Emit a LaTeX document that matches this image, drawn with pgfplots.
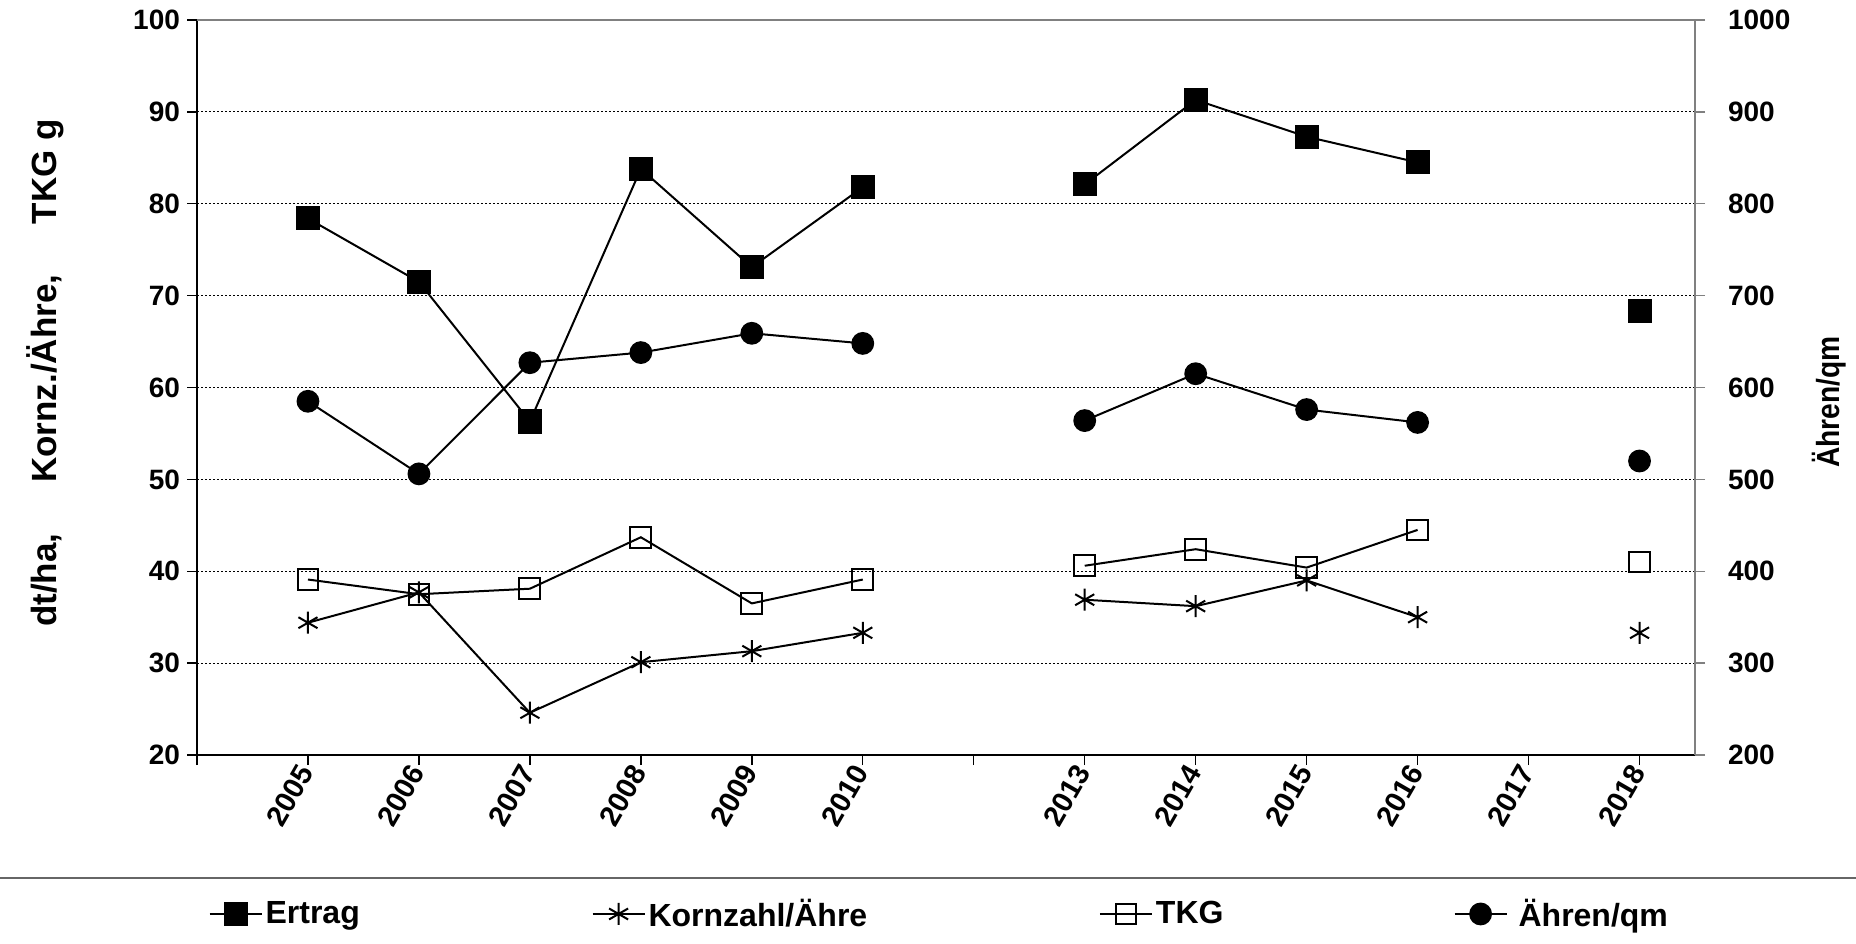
\documentclass[border=0pt]{standalone}
\usepackage{pgfplots}
\usepackage{pgfplotstable}
\pgfplotsset{compat=1.18}
\usepackage{fontspec}
\setmainfont{Liberation Sans}

\pgfplotstableread{
idx ertrag korn tkg aehren
1  78.4 34.4 39.1 585
2  71.5 37.7 37.5 506
3  56.3 24.6 38.1 627
4  83.8 30.1 43.7 638
5  73.1 31.3 36.5 659
6  81.8 33.3 39.1 648
7  nan  nan  nan  nan
8  82.1 36.9 40.6 564
9  91.3 36.2 42.4 615
10 87.3 39.0 40.4 576
11 84.5 35.0 44.5 562
12 nan  nan  nan  nan
13 68.3 33.3 41.0 520
}\datatable

\begin{document}
\begin{tikzpicture}[x=1pt,y=1pt]
\useasboundingbox (0,0) rectangle (928,471.5);
\pgfplotsset{
  every axis/.append style={
    at={(98.5pt,94pt)}, anchor=south west,
    width=749pt, height=367.5pt, scale only axis,
    xmin=0, xmax=13.5,
    tick align=outside, major tick length=5pt,
    /pgf/number format/assume math mode=true,
    /pgf/number format/1000 sep={},
    ticklabel style={font=\fontsize{14}{14}\selectfont\bfseries},
    unbounded coords=jump,
  },
}
\begin{axis}[
  ymin=20, ymax=100, ytick={20,30,...,100},
  xtick={0,...,13},
  xticklabels={,2005,2006,2007,2008,2009,2010,,2013,2014,2015,2016,2017,2018},
  xticklabel style={rotate=60, anchor=east, inner sep=1.5pt, font=\fontsize{14.5}{14.5}\selectfont\bfseries},
  axis x line*=bottom, axis y line*=left,
  axis line style={black, line width=0.9pt},
  tick style={black, line width=0.7pt},
  ymajorgrids,
  grid style={black, line width=0.5pt, dash pattern=on 1pt off 1pt},
  legend columns=4,
  legend style={draw=none, fill=none, inner sep=0pt, outer sep=0pt,
    at={(0.00774,-0.2163)}, anchor=west,
    font=\fontsize{16}{16}\selectfont\bfseries,
    nodes={inner sep=1.5pt},
    /tikz/every even column/.append style={column sep=0pt}},
  legend image code/.code={\draw[mark repeat=2,mark phase=2] plot coordinates {(0pt,0pt) (13pt,0pt) (26pt,0pt)};},
]
\addplot[black, line width=1pt, mark=square*, mark size=5.5pt, mark options={solid}] table[x=idx, y=ertrag] {\datatable};
\addlegendentry{\makebox[161.5pt][l]{Ertrag}}
\addplot[black, line width=1pt, mark=asterisk, mark size=5.5pt, mark options={solid, line width=1pt}] table[x=idx, y=korn] {\datatable};
\addlegendentry{\makebox[223.7pt][l]{Kornzahl/Ähre}}
\addplot[black, line width=1pt, mark=square, mark size=5.2pt, mark options={solid, line width=1pt}] table[x=idx, y=tkg] {\datatable};
\addlegendentry{\makebox[147.3pt][l]{TKG}}
\addlegendimage{black, line width=1pt, mark=*, mark size=5.2pt}
\addlegendentry{\hspace{4pt}Ähren/qm}
\end{axis}
\begin{axis}[
  ymin=200, ymax=1000, ytick={200,300,...,1000},
  xtick=\empty,
  axis x line*=top, axis y line*=right,
  axis line style={gray, line width=0.9pt},
  ytick style={gray, line width=0.7pt},
  yticklabel style={xshift=8pt},
]
\addplot[black, line width=1pt, mark=*, mark size=5.2pt] table[x=idx, y=aehren] {\datatable};
\end{axis}
\draw[black!60, line width=1pt] (0,32.5) -- (928,32.5);
\node[rotate=90, font=\fontsize{17.5}{17.5}\selectfont\bfseries] at (22.5,285) {dt/ha,\hspace{1.45em}Kornz./Ähre,\hspace{1.45em}TKG g};
\node[rotate=90, font=\fontsize{16}{16}\selectfont\bfseries] at (914.5,270.5) {\scalebox{0.88}[1]{Ähren/qm}};
\end{tikzpicture}
\end{document}
